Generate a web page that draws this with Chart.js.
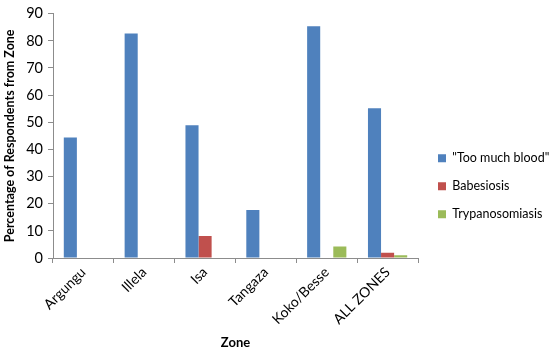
<!DOCTYPE html>
<html>
<head>
<meta charset="utf-8">
<script src="https://cdn.jsdelivr.net/npm/chart.js@4.4.0/dist/chart.umd.min.js"></script>
<style>
html,body{margin:0;padding:0;background:#fff;}
#wrap{width:553px;height:351px;position:relative;}
</style>
</head>
<body>
<div id="wrap"><canvas id="c" width="553" height="351"></canvas></div>
<script>
const zones = ["Argungu", "Illela", "Isa", "Tangaza", "Koko/Besse", "ALL ZONES"];
const tooMuchBlood = [44.4, 82.7, 48.9, 17.7, 85.4, 55.2];
const babesiosis = [0, 0, 8.1, 0, 0, 1.9];
const trypanosomiasis = [0, 0, 0, 0, 4.2, 1.0];
const seriesNames = ['"Too much blood"', "Babesiosis", "Trypanosomiasis"];

const FONT = "Lato, 'Open Sans', sans-serif";
const axisColor = "#8c8c8c";

const legendPos = {
  id: "legendPos",
  afterUpdate(chart) {
    const l = chart.legend;
    if (!l) return;
    const w = l.width, h = l.height;
    l.left = 422.5; l.right = l.left + w;
    l.top = 136.5; l.bottom = l.top + h;
    l.adjustHitBoxes();
  }
};

new Chart(document.getElementById("c"), {
  type: "bar",
  data: {
    labels: zones,
    datasets: [
      { label: seriesNames[0], data: tooMuchBlood, backgroundColor: "#4F81BD" },
      { label: seriesNames[1], data: babesiosis, backgroundColor: "#C0504D" },
      { label: seriesNames[2], data: trypanosomiasis, backgroundColor: "#9BBB59" }
    ]
  },
  options: {
    responsive: false,
    animation: false,
    devicePixelRatio: 1,
    layout: { padding: { top: 8, right: 0, bottom: 0, left: 0 } },
    datasets: { bar: { categoryPercentage: 0.645, barPercentage: 1.0 } },
    plugins: {
      legend: {
        position: "right",
        align: "start",
        maxWidth: 135,
        labels: {
          boxWidth: 8, boxHeight: 8, padding: 15.5,
          color: "#000", font: { family: FONT, size: 12.5 }
        }
      },
      tooltip: { enabled: false }
    },
    scales: {
      x: {
        grid: { display: true, drawOnChartArea: false, drawTicks: true, tickLength: 5, color: axisColor, offset: true },
        border: { display: true, color: axisColor },
        ticks: { color: "#000", font: { family: FONT, size: 14 }, maxRotation: 45, minRotation: 45, padding: 1 },
        title: { display: true, text: "Zone", color: "#000", font: { family: FONT, size: 13, weight: "bold" }, padding: { top: 0, bottom: 0 } },
        afterFit(s) { s.height = 93; }
      },
      y: {
        min: 0, max: 90,
        grid: { display: true, drawOnChartArea: false, drawTicks: true, tickLength: 5, color: axisColor },
        border: { display: true, color: axisColor },
        ticks: { stepSize: 10, color: "#000", font: { family: FONT, size: 14.5 }, padding: 5 },
        title: { display: true, text: "Percentage of Respondents from Zone", color: "#000", font: { family: FONT, size: 12.5, weight: "bold" }, padding: { top: 2, bottom: 0 } },
        afterFit(s) { s.width = 53; }
      }
    }
  },
  plugins: [legendPos]
});
</script>
</body>
</html>
